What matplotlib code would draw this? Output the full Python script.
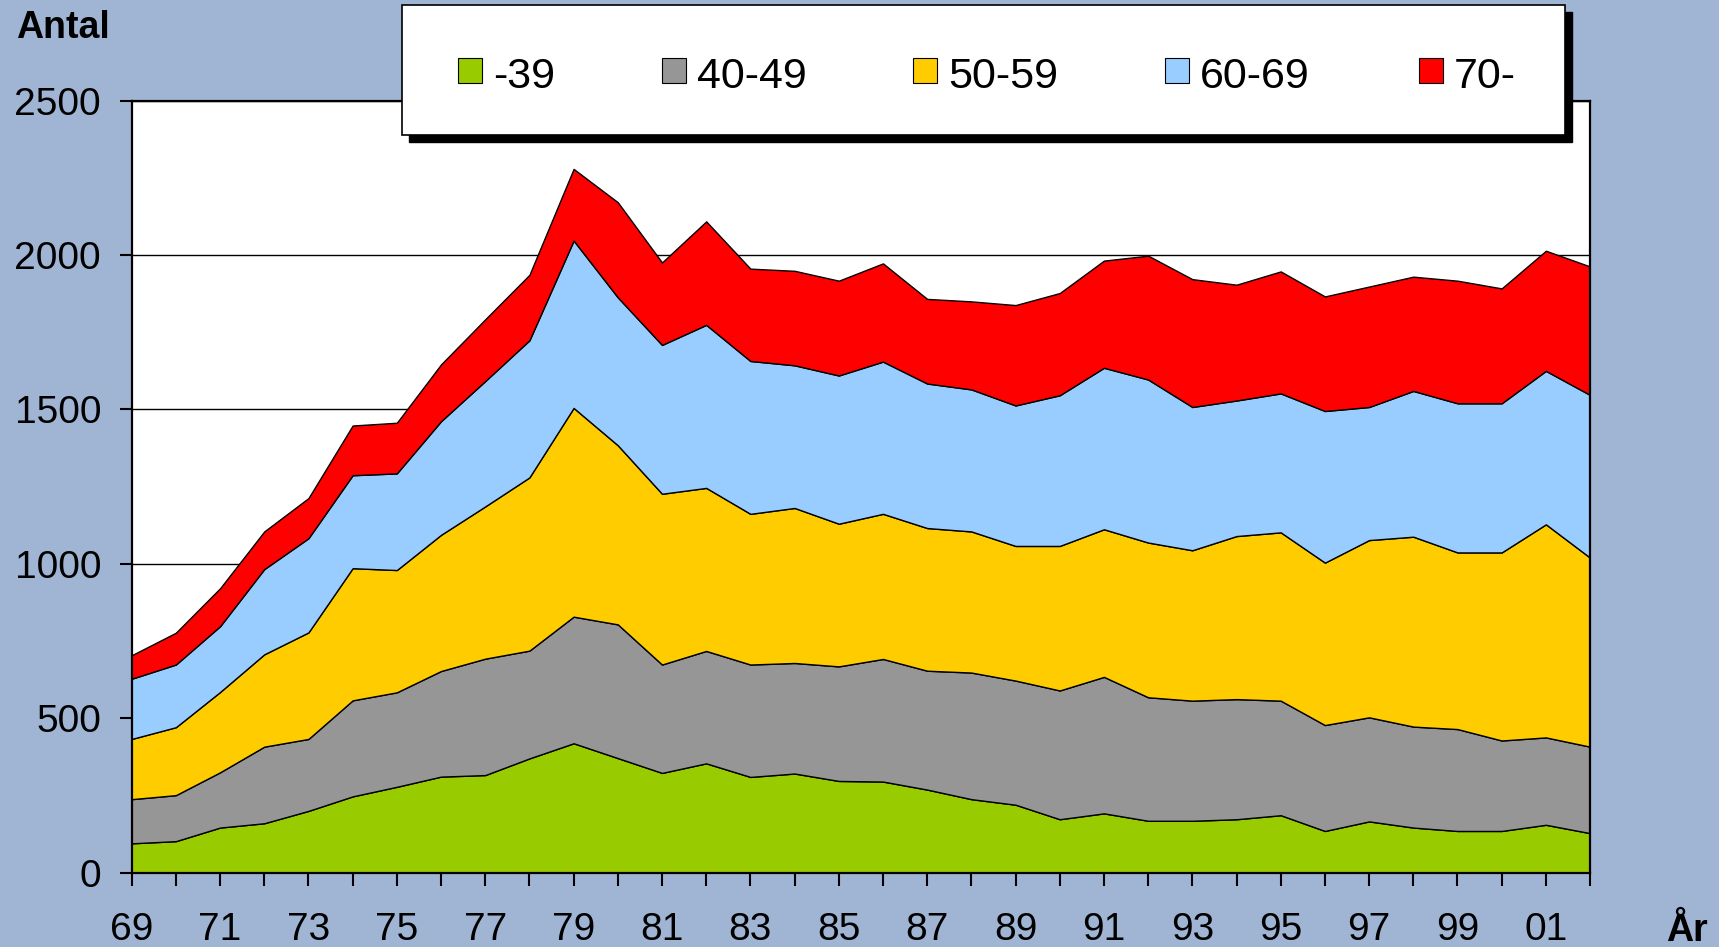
import numpy as np
import matplotlib; matplotlib.use("Agg")
import matplotlib.pyplot as plt
from matplotlib.patches import Rectangle

# years 1969-2002, two-digit labels
years = ["69", "70", "71", "72", "73", "74", "75", "76", "77", "78", "79", "80",
         "81", "82", "83", "84", "85", "86", "87", "88", "89", "90", "91", "92",
         "93", "94", "95", "96", "97", "98", "99", "00", "01", "02"]

age_39 = [95, 102, 146, 160, 200, 247, 278, 311, 316, 370, 419, 371, 323, 354, 310, 321, 297,
          295, 269, 238, 220, 173, 192, 168, 168, 173, 186, 135, 166, 146, 135, 135, 155, 128]
age_40_49 = [143, 149, 179, 248, 233, 311, 306, 342, 377, 349, 410, 433, 351, 364, 364, 358, 371,
             397, 385, 410, 402, 417, 442, 400, 389, 389, 371, 343, 337, 327, 330, 293, 283, 280]
age_50_59 = [195, 220, 260, 299, 345, 428, 396, 441, 493, 561, 676, 580, 553, 528, 488, 502, 462,
             470, 462, 457, 436, 468, 478, 501, 487, 528, 545, 526, 574, 615, 572, 609, 690, 612]
age_60_69 = [195, 203, 213, 276, 305, 301, 313, 368, 406, 444, 542, 479, 482, 528, 495, 462, 480,
             493, 468, 460, 455, 488, 523, 528, 464, 439, 450, 491, 431, 472, 483, 483, 497, 527]
age_70 = [76, 103, 123, 122, 130, 161, 164, 184, 200, 212, 232, 308, 267, 335, 299, 306, 307,
          318, 274, 285, 325, 331, 347, 401, 414, 375, 395, 371, 390, 370, 397, 372, 389, 416]

labels = ["-39", "40-49", "50-59", "60-69", "70-"]
colors = ["#99CC00", "#969696", "#FFCC00", "#99CCFF", "#FF0000"]

bg = "#A0B4D4"
plt.rcParams["font.family"] = ["Liberation Sans", "DejaVu Sans"]

fig = plt.figure(figsize=(17.19, 9.47), dpi=100, facecolor=bg)
ax = fig.add_axes([0.0766, 0.0785, 0.925 - 0.0766, 0.8937 - 0.0785])
ax.set_facecolor("white")

x = np.arange(len(years))
ax.stackplot(x, age_39, age_40_49, age_50_59, age_60_69, age_70,
             colors=colors, edgecolor="black", linewidth=1.0, zorder=2)

ax.set_xlim(0, len(years) - 1)
ax.set_ylim(0, 2500)
ax.set_yticks(np.arange(0, 2501, 500))
ax.set_xticks(x)
ax.set_xticklabels([y if i % 2 == 0 else "" for i, y in enumerate(years)])
ax.yaxis.grid(True, color="black", linewidth=1.0, zorder=1)
ax.set_axisbelow(True)

for s in ax.spines.values():
    s.set_linewidth(1.6)
    s.set_color("black")
    s.set_zorder(3)
ax.tick_params(axis="x", length=9, width=1.5, pad=19, labelsize=28, direction="out")
ax.tick_params(axis="y", length=9, width=1.5, pad=13, labelsize=28, direction="out")

fig.text(0.0093, 1 - 37.5 / 947, "Antal", fontsize=27, fontweight="bold", va="baseline", ha="left")
fig.text(0.969, 1 - 940.5 / 947, "År", fontsize=27, fontweight="bold", va="baseline", ha="left")

# legend box with a hard black shadow
lx0, lx1 = 402 / 1719, 1565 / 1719
ly0, ly1 = 1 - 135 / 947, 1 - 5.5 / 947
dx, dy = 7 / 1719, 7 / 947
fig.patches.append(Rectangle((lx0 + dx, ly0 - dy), lx1 - lx0, ly1 - ly0, transform=fig.transFigure,
                             facecolor="black", edgecolor="black", zorder=5))
fig.patches.append(Rectangle((lx0, ly0), lx1 - lx0, ly1 - ly0, transform=fig.transFigure,
                             facecolor="white", edgecolor="black", linewidth=1.2, zorder=6))
sq_left = [458, 662, 913, 1165, 1419]
cy = 1 - 71 / 947
base_y = 1 - 87.5 / 947
sw, sh = 24 / 1719, 25 / 947
for left, lab, col in zip(sq_left, labels, colors):
    fx = left / 1719
    fig.patches.append(Rectangle((fx, cy - sh / 2), sw, sh, transform=fig.transFigure,
                                 facecolor=col, edgecolor="black", linewidth=0.8, zorder=7))
    fig.text(fx + sw + 11 / 1719, base_y, lab, fontsize=31, va="baseline", ha="left", zorder=8)

fig.savefig("out.png", dpi=100, facecolor=bg)
